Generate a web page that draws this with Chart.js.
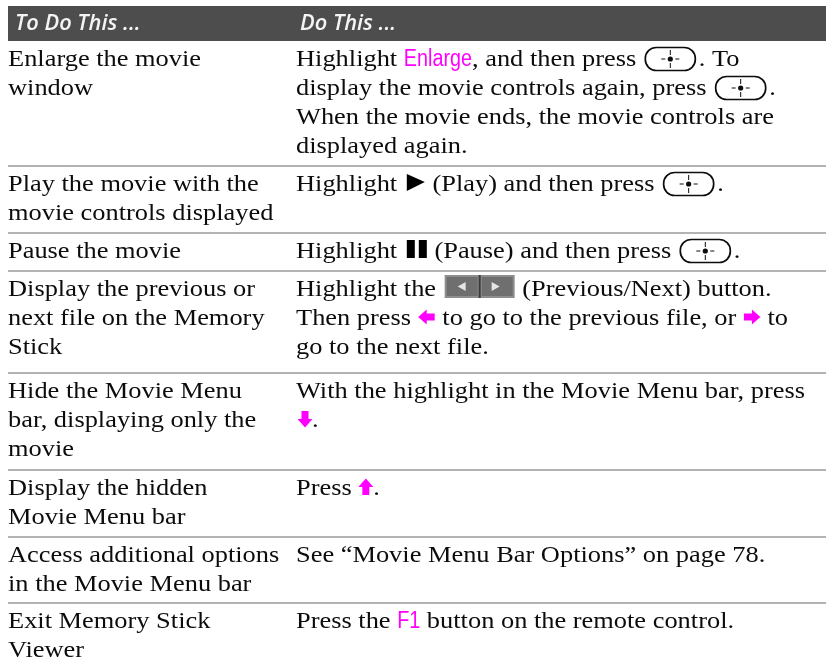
<!DOCTYPE html>
<html>
<head>
<meta charset="utf-8">
<title>To Do This</title>
<script src="https://cdn.jsdelivr.net/npm/chart.js@4/dist/chart.umd.min.js"></script>
<style>
  html, body { margin: 0; padding: 0; background: #fff; }
  canvas { display: block; }
</style>
</head>
<body>
<canvas id="table-chart" width="826" height="666"></canvas>
<script>
// table content, {m:...} is magenta label, {btn} etc are the inline icons
const headers = ['To Do This ...', 'Do This ...'];

const leftCells = [
    ['Enlarge the movie', 'window'],
    ['Play the movie with the', 'movie controls displayed'],
    ['Pause the movie'],
    ['Display the previous or', 'next file on the Memory', 'Stick'],
    ['Hide the Movie Menu', 'bar, displaying only the', 'movie'],
    ['Display the hidden', 'Movie Menu bar'],
    ['Access additional options', 'in the Movie Menu bar'],
    ['Exit Memory Stick', 'Viewer'],
];

const rightCells = [
    ['Highlight {m:Enlarge}, and then press {btn}. To', 'display the movie controls again, press {btn}.', 'When the movie ends, the movie controls are', 'displayed again.'],
    ['Highlight {play} (Play) and then press {btn}.'],
    ['Highlight {pause} (Pause) and then press {btn}.'],
    ['Highlight the {prevnext} (Previous/Next) button.', 'Then press {left} to go to the previous file, or {right} to', 'go to the next file.'],
    ['With the highlight in the Movie Menu bar, press', '{down}.'],
    ['Press {up}.'],
    ['See \u201CMovie Menu Bar Options\u201D on page 78.'],
    ['Press the {m:F1} button on the remote control.'],
];

// y axis values of the band under the header and of the row rules
const headerBand = [6, 41];
const rowTops = [41, 166, 233, 271, 373, 470, 537, 603];

const tableLeft = 8;
const tableRight = 826;
const leftColumn = 8;
const rightColumn = 296;
const headerColumns = [15, 300];

const BODY_FONT = '24px "Liberation Serif"';
const BODY_STRETCH = 1.1;
const LINE_HEIGHT = 29;
const BASELINE_OFFSET = 25;
const MAGENTA = '#ff00ff';
const INK = '#0c0c0c';

const iconWidths = { btn: 56, play: 22, pause: 24, prevnext: 73, left: 18, right: 18, down: 16, up: 15 };

function drawStretched(ctx, text, x, y, stretch) {
    ctx.save();
    ctx.translate(x, y);
    ctx.scale(stretch, 1);
    ctx.fillText(text, 0, 0);
    ctx.restore();
    return ctx.measureText(text).width * stretch;
}

function drawButton(ctx, x, y) {
    const cy = y - 7;
    ctx.save();
    ctx.strokeStyle = INK;
    ctx.fillStyle = INK;
    ctx.lineWidth = 1.7;
    ctx.beginPath();
    ctx.roundRect(x + 2.5, cy - 11.5, 50, 23, 11);
    ctx.stroke();
    const cx = x + 27.5;
    ctx.lineWidth = 1;
    ctx.beginPath();
    ctx.moveTo(cx - 9, cy); ctx.lineTo(cx - 5, cy);
    ctx.moveTo(cx + 5, cy); ctx.lineTo(cx + 9, cy);
    ctx.moveTo(cx, cy - 9); ctx.lineTo(cx, cy - 4);
    ctx.moveTo(cx, cy + 4); ctx.lineTo(cx, cy + 9);
    ctx.stroke();
    ctx.beginPath();
    ctx.arc(cx, cy, 2.6, 0, Math.PI * 2);
    ctx.fill();
    ctx.restore();
}

function drawArrow(ctx, cx, cy, angle) {
    // arrow pointing right, rotated for the other directions
    ctx.save();
    ctx.translate(cx, cy);
    ctx.rotate(angle);
    ctx.fillStyle = MAGENTA;
    ctx.beginPath();
    ctx.moveTo(8.5, 0);
    ctx.lineTo(0, -7.5);
    ctx.lineTo(0, -3.5);
    ctx.lineTo(-8, -3.5);
    ctx.lineTo(-8, 3.5);
    ctx.lineTo(0, 3.5);
    ctx.lineTo(0, 7.5);
    ctx.closePath();
    ctx.fill();
    ctx.restore();
}

function drawIcon(ctx, name, x, y) {
    if (name === 'btn') {
        drawButton(ctx, x, y);
    } else if (name === 'play') {
        ctx.fillStyle = '#000';
        ctx.beginPath();
        ctx.moveTo(x + 3, y - 17); ctx.lineTo(x + 21, y - 9); ctx.lineTo(x + 3, y);
        ctx.closePath();
        ctx.fill();
    } else if (name === 'pause') {
        ctx.fillStyle = '#000';
        ctx.fillRect(x + 3, y - 18, 8, 18);
        ctx.fillRect(x + 15, y - 18, 8, 18);
    } else if (name === 'prevnext') {
        ctx.fillStyle = '#8e8e8e';
        ctx.fillRect(x + 2, y - 21, 70, 23);
        ctx.fillStyle = '#6f6f6f';
        ctx.fillRect(x + 4, y - 19, 31, 19);
        ctx.fillRect(x + 39, y - 19, 31, 19);
        ctx.fillStyle = '#3a3a3a';
        ctx.fillRect(x + 36, y - 21, 2, 23);
        ctx.fillStyle = '#e4e4e4';
        ctx.beginPath();
        ctx.moveTo(x + 23, y - 14); ctx.lineTo(x + 15, y - 9.5); ctx.lineTo(x + 23, y - 5);
        ctx.moveTo(x + 49, y - 14); ctx.lineTo(x + 57, y - 9.5); ctx.lineTo(x + 49, y - 5);
        ctx.fill();
    } else if (name === 'left') {
        drawArrow(ctx, x + 9, y - 8, Math.PI);
    } else if (name === 'right') {
        drawArrow(ctx, x + 9, y - 8, 0);
    } else if (name === 'down') {
        drawArrow(ctx, x + 9, y - 8, Math.PI / 2);
    } else if (name === 'up') {
        drawArrow(ctx, x + 7.5, y - 8, -Math.PI / 2);
    }
}

function drawRichLine(ctx, line, x, y) {
    const parts = line.split(/(\{[^}]+\})/).filter(Boolean);
    let cursor = x;
    for (const part of parts) {
        if (part.startsWith('{m:')) {
            ctx.font = '23px "Liberation Sans"';
            ctx.fillStyle = MAGENTA;
            cursor += drawStretched(ctx, part.slice(3, -1), cursor, y, 0.86);
        } else if (part.startsWith('{')) {
            const name = part.slice(1, -1);
            drawIcon(ctx, name, cursor, y);
            cursor += iconWidths[name];
        } else {
            ctx.font = BODY_FONT;
            ctx.fillStyle = INK;
            cursor += drawStretched(ctx, part, cursor, y, BODY_STRETCH);
        }
    }
}

const tableText = {
    id: 'tableText',
    afterDatasetsDraw(chart) {
        const { ctx, scales: { x, y } } = chart;
        ctx.save();
        ctx.textBaseline = 'alphabetic';
        ctx.font = 'italic 600 21px "Open Sans"';
        ctx.fillStyle = '#f4f4f4';
        headers.forEach((label, i) => {
            drawStretched(ctx, label, x.getPixelForValue(headerColumns[i]), y.getPixelForValue(30), 1.04);
        });
        rowTops.forEach((top, row) => {
            const base = y.getPixelForValue(top) + BASELINE_OFFSET;
            leftCells[row].forEach((line, i) => {
                drawRichLine(ctx, line, x.getPixelForValue(leftColumn), base + i * LINE_HEIGHT);
            });
            rightCells[row].forEach((line, i) => {
                drawRichLine(ctx, line, x.getPixelForValue(rightColumn), base + i * LINE_HEIGHT);
            });
        });
        ctx.restore();
    }
};

const ruleDatasets = rowTops.slice(1).map((top) => ({
    data: [{ x: tableLeft, y: top }, { x: tableRight, y: top }],
    borderColor: '#b3b3b3',
    borderWidth: 2,
    pointRadius: 0,
}));

new Chart(document.getElementById('table-chart'), {
    type: 'line',
    data: {
        datasets: [
            {
                data: [{ x: tableLeft, y: headerBand[0] }, { x: tableRight, y: headerBand[0] }],
                borderWidth: 0,
                pointRadius: 0,
                backgroundColor: '#4d4d4d',
                fill: { value: headerBand[1] },
            },
            ...ruleDatasets,
        ],
    },
    options: {
        responsive: false,
        animation: false,
        layout: { padding: 0 },
        plugins: { legend: { display: false }, tooltip: { enabled: false } },
        scales: {
            x: { type: 'linear', min: 0, max: 826, display: false },
            y: { type: 'linear', min: 0, max: 666, reverse: true, display: false },
        },
    },
    plugins: [tableText],
});
</script>
</body>
</html>
